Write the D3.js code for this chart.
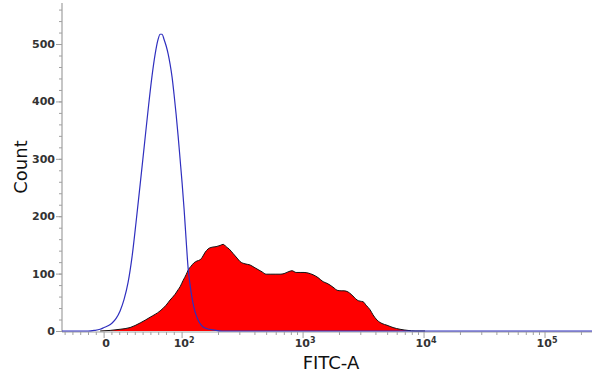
<!DOCTYPE html>
<html><head><meta charset="utf-8">
<script src="https://cdn.jsdelivr.net/npm/d3@7"></script>
<style>body{margin:0;background:#fff}svg{display:block}</style>
</head><body>
<svg id="c" width="600" height="385"></svg>
<script>
// ---- data (FITC-A values, counts) ----
const unstainedX = [-54,-20.5,-12.8,-5.1,0,5.1,10.3,15.4,20.5,25.6,30.8,35.9,41.0,46.2,51.3,56.4,61.5,65.4,69.2,71.8,74.4,76.9,79.5,82.1,84.6,87.2,89.7,92.3,94.9,97.4,100,103.9,107.9,112.1,116.5,121.0,125.7,130.5,135.6,140.8,149.1,160.9,180.4,214.1,244500];
const unstainedY = [0,0,1,3,6,9,14,22,35,55,85,130,190,255,320,385,445,482,508,517,517,508,497,483,465,442,412,378,340,300,258,212,160,110,80,57,40,28,19,13,7,4,2,0,0];
const stainedX = [-5.1,7.7,20.5,33.3,46.2,59.0,71.8,79.5,84.6,91.0,94.9,97.4,101.9,107.9,112.1,118.7,125.7,133.0,140.8,146.3,154.9,164.0,177.0,191.0,206.1,218.2,231.0,244.5,264.0,284.8,301.5,331.6,364.8,393.6,424.8,458.4,494.6,533.8,587.1,645.6,696.6,751.6,811.1,875.2,944.5,1019,1100,1209,1330,1463,1579,1672,1804,1910,2061,2182,2355,2493,2640,2795,2959,3133,3316,3578,3789,4089,4498,4946,5543,6334,7375,8426,10190];
const stainedY = [0,1,3,6,14,24,35,45,54,64,72,77,88,98,106,113,119,122,124,128,137,143,146,147,149,151,147,143,135,127,121,117,115,111,107,103,99,99,99,99,100,103,105,102,102,102,101,98,93,86,83,80,75,71,70,70,68,64,59,54,52,51,45,37,28,19,13,10,6,3,1,0,0];
const yTicks = [0,100,200,300,400,500];
const xTickVals = [0,100,1000,10000,100000];
const xTickBase = ["0","10","10","10","10"];
const xTickExp = ["","2","3","4","5"];

const W=600,H=385, L=62, R=592, B=331, Tp=5;
const xMin=-54, xMax=244500, yMax=568;

// biexponential-like display transform: linear below 100, log10 above
const tr = v => v < 100 ? 1.3554 + 0.6446*v/100 : Math.log10(v);
const xs = d3.scaleLinear().domain([tr(xMin), tr(xMax)]).range([L, R]);
const x = v => xs(tr(v));
const y = d3.scaleLinear().domain([0, yMax]).range([B, Tp]);

const svg = d3.select("#c");
const font = "'DejaVu Sans', Verdana, sans-serif";

// stained filled histogram
const sd = stainedX.map((v,i)=>[v, stainedY[i]]);
svg.append("path").datum(sd)
  .attr("d", d3.area().x(d=>x(d[0])).y0(y(0)).y1(d=>y(d[1])).curve(d3.curveMonotoneX))
  .attr("fill","#ff0000").attr("stroke","none");
svg.append("path").datum(sd)
  .attr("d", d3.line().x(d=>x(d[0])).y(d=>y(d[1])).curve(d3.curveMonotoneX))
  .attr("fill","none").attr("stroke","#111").attr("stroke-width",1);

// axes
const axisCol = "#a0a0a0";
svg.append("line").attr("x1",L).attr("x2",L).attr("y1",Tp-2).attr("y2",B+1).attr("stroke",axisCol).attr("stroke-width",1.2);
svg.append("line").attr("x1",L).attr("x2",R).attr("y1",B+1).attr("y2",B+1).attr("stroke",axisCol).attr("stroke-width",1.2);

// y ticks
const yMinor = d3.range(0, yMax, 20);
svg.selectAll(".ymn").data(yMinor).enter().append("line")
  .attr("x1",L-3).attr("x2",L).attr("y1",d=>y(d)+0.5).attr("y2",d=>y(d)+0.5).attr("stroke",axisCol);
svg.selectAll(".ymj").data(yTicks).enter().append("line")
  .attr("x1",L-6).attr("x2",L).attr("y1",d=>y(d)+0.5).attr("y2",d=>y(d)+0.5).attr("stroke",axisCol);
svg.selectAll(".ylab").data(yTicks).enter().append("text")
  .attr("x",L-7).attr("y",d=>y(d)).attr("dy","0.36em").attr("text-anchor","end")
  .attr("font-family",font).attr("font-size",11).attr("font-weight","bold").attr("fill","#333")
  .text(d=>d);

// x ticks
const xMinor = d3.range(-50, 100, 10).filter(v=>v!==0)
  .concat([2,3,4].flatMap(e=>d3.range(2,10).map(k=>k*Math.pow(10,e)))).concat([200000]);
svg.selectAll(".xmn").data(xMinor).enter().append("line")
  .attr("x1",d=>x(d)).attr("x2",d=>x(d)).attr("y1",B+1).attr("y2",B+4).attr("stroke",axisCol);
svg.selectAll(".xmj").data(xTickVals).enter().append("line")
  .attr("x1",d=>x(d)).attr("x2",d=>x(d)).attr("y1",B+1).attr("y2",B+7).attr("stroke",axisCol);
const xl = svg.selectAll(".xlab").data(xTickVals).enter().append("text")
  .attr("x",d=>x(d)+2).attr("y",B+16).attr("text-anchor","middle")
  .attr("font-family",font).attr("font-size",11).attr("font-weight","bold").attr("fill","#333");
xl.append("tspan").text((d,i)=>xTickBase[i]);
xl.append("tspan").attr("dy",-4).attr("font-size",8).text((d,i)=>xTickExp[i]);

// unstained histogram (blue line)
const ud = unstainedX.map((v,i)=>[v, unstainedY[i]]);
svg.append("path").datum(ud)
  .attr("d", d3.line().x(d=>x(d[0])).y(d=>y(d[1])).curve(d3.curveMonotoneX))
  .attr("fill","none").attr("stroke","#2f2fbf").attr("stroke-width",1.2);

// titles
svg.append("text").attr("x",331).attr("y",369).attr("text-anchor","middle")
  .attr("font-family",font).attr("font-size",18).attr("fill","#111").text("FITC-A");
svg.append("text").attr("transform","translate(27,167) rotate(-90)").attr("text-anchor","middle")
  .attr("font-family",font).attr("font-size",18).attr("fill","#111").text("Count");
</script>
</body></html>
